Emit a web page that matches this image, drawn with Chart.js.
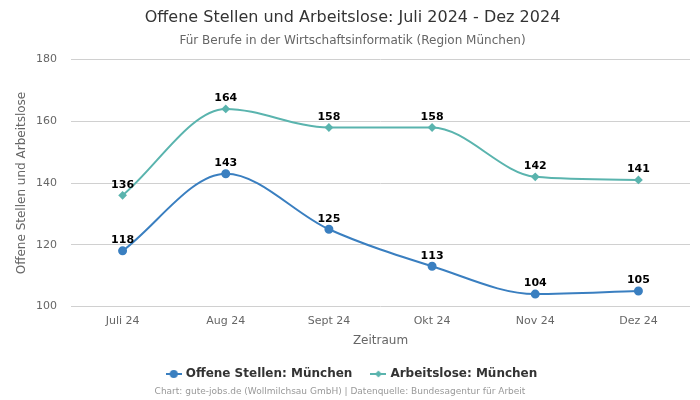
<!DOCTYPE html>
<html>
<head>
<meta charset="utf-8">
<script src="https://cdn.jsdelivr.net/npm/chart.js@4"></script>
<style>
  html, body { margin: 0; padding: 0; background: #fff; }
  #wrap { width: 700px; height: 400px; }
</style>
</head>
<body>
<div id="wrap"><canvas id="chart"></canvas></div>
<script>
const months = ['Juli 24', 'Aug 24', 'Sept 24', 'Okt 24', 'Nov 24', 'Dez 24'];
const offeneStellen = [118, 143, 125, 113, 104, 105];
const arbeitslose = [136, 164, 158, 158, 142, 141];
const yTicks = [100, 120, 140, 160, 180];

const blue = '#3a7fc0';
const teal = '#5ab4ae';
const font = 'DejaVu Sans';

// little legend icon: line with marker in the middle
function legendIcon(color, style) {
  const c = document.createElement('canvas');
  c.width = 16; c.height = 10;
  const g = c.getContext('2d');
  g.strokeStyle = color; g.lineWidth = 2;
  g.beginPath(); g.moveTo(0, 5); g.lineTo(16, 5); g.stroke();
  g.fillStyle = color;
  g.beginPath();
  if (style === 'circle') {
    g.arc(8, 5, 4, 0, Math.PI * 2);
  } else {
    g.moveTo(8, 1.5); g.lineTo(11.5, 5); g.lineTo(8, 8.5); g.lineTo(4.5, 5); g.closePath();
  }
  g.fill();
  return c;
}

// values above the points
const valueLabels = {
  id: 'valueLabels',
  afterDatasetsDraw(chart) {
    const ctx = chart.ctx;
    ctx.save();
    ctx.font = 'bold 11px "' + font + '"';
    ctx.fillStyle = '#000';
    ctx.textAlign = 'center';
    ctx.textBaseline = 'bottom';
    chart.data.datasets.forEach((ds, i) => {
      chart.getDatasetMeta(i).data.forEach((pt, j) => {
        ctx.fillText(ds.data[j], pt.x, pt.y - 5);
      });
    });
    ctx.restore();
  }
};

// source line at the very bottom
const credit = {
  id: 'credit',
  afterDraw(chart) {
    const ctx = chart.ctx;
    ctx.save();
    ctx.font = '9px "' + font + '"';
    ctx.fillStyle = '#999';
    ctx.textAlign = 'center';
    ctx.textBaseline = 'middle';
    ctx.fillText('Chart: gute-jobs.de (Wollmilchsau GmbH) | Datenquelle: Bundesagentur für Arbeit', 340, 392);
    ctx.restore();
  }
};

new Chart(document.getElementById('chart'), {
  type: 'line',
  data: {
    labels: months,
    datasets: [
      {
        label: 'Offene Stellen: München',
        data: offeneStellen,
        borderColor: blue,
        backgroundColor: blue,
        borderWidth: 2,
        pointStyle: 'circle',
        pointRadius: 3.5,
        cubicInterpolationMode: 'monotone'
      },
      {
        label: 'Arbeitslose: München',
        data: arbeitslose,
        borderColor: teal,
        backgroundColor: teal,
        borderWidth: 2,
        pointStyle: 'rectRot',
        pointRadius: 3,
        cubicInterpolationMode: 'monotone'
      }
    ]
  },
  options: {
    responsive: true,
    maintainAspectRatio: false,
    animation: false,
    layout: { padding: { left: 15, right: 10, bottom: 10 } },
    plugins: {
      title: {
        display: true,
        text: 'Offene Stellen und Arbeitslose: Juli 2024 - Dez 2024',
        color: '#333',
        font: { family: font, size: 16, weight: 'normal' },
        padding: { top: 8, bottom: 6 }
      },
      subtitle: {
        display: true,
        text: 'Für Berufe in der Wirtschaftsinformatik (Region München)',
        color: '#666',
        font: { family: font, size: 12 },
        padding: { bottom: 12 }
      },
      legend: {
        position: 'bottom',
        labels: {
          usePointStyle: true,
          color: '#333',
          font: { family: font, size: 12, weight: 'bold' },
          padding: 20,
          generateLabels(chart) {
            return chart.data.datasets.map((ds, i) => ({
              text: ds.label,
              pointStyle: legendIcon(ds.borderColor, i === 0 ? 'circle' : 'diamond'),
              fontColor: '#333',
              datasetIndex: i,
              hidden: false,
              lineWidth: 0
            }));
          }
        }
      },
      tooltip: { enabled: false }
    },
    scales: {
      x: {
        offset: true,
        grid: { display: false, drawTicks: false },
        border: { display: false },
        ticks: { color: '#666', font: { family: font, size: 11 }, padding: 8 },
        title: { display: true, text: 'Zeitraum', color: '#666', font: { family: font, size: 12 }, padding: { top: -2, bottom: 0 } }
      },
      y: {
        min: 100,
        max: 180,
        afterBuildTicks(axis) { axis.ticks = yTicks.map(v => ({ value: v })); },
        afterFit(axis) { axis.width = 56; },
        grid: { color: '#d0d0d0', drawTicks: false },
        border: { display: false },
        ticks: { color: '#666', font: { family: font, size: 11 }, padding: 14 },
        title: { display: true, text: 'Offene Stellen und Arbeitslose', color: '#666', font: { family: font, size: 12 }, padding: 0 }
      }
    }
  },
  plugins: [valueLabels, credit]
});
</script>
</body>
</html>
